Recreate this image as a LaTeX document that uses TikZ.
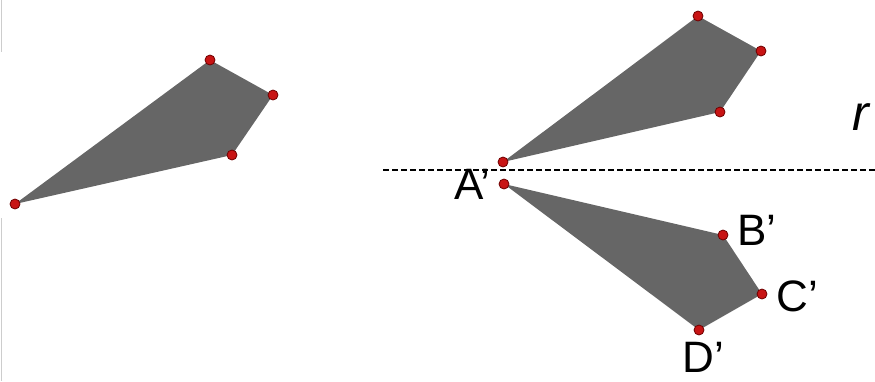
\documentclass[tikz,border=0pt]{standalone}
\usepackage{fontspec}
\setmainfont{Liberation Sans}
\usetikzlibrary{positioning}
\definecolor{kitegray}{RGB}{102,102,102}
\definecolor{vertexred}{RGB}{200,20,20}
\definecolor{vertexrim}{RGB}{110,0,0}
\definecolor{framegray}{RGB}{205,205,205}

\begin{document}
\begin{tikzpicture}[x=1pt, y=-1pt,
			kite/.style={fill=kitegray},
			vertex/.style={circle, fill=vertexred, draw=vertexrim,
				line width=0.8pt, inner sep=0pt, minimum size=10pt},
			ptlabel/.style={inner sep=0pt, font=\fontsize{44}{44}\selectfont},
			mirror/.style={draw, line width=1.3pt, dash pattern=on 6pt off 3pt},
			frame/.style={draw=framegray, line width=1pt}
		]
		\useasboundingbox (0,0) rectangle (875,381);
		\draw[frame] (1,0) -- (1,52);
		\draw[frame] (1,218) -- (1,381);

		% original kite
		\coordinate (la) at (15,204);
		\coordinate (lb) at (210,60);
		\coordinate (lc) at (273,95);
		\coordinate (ld) at (232,155);
		% kite above the line
		\coordinate (ta) at (503,162);
		\coordinate (tb) at (698,16);
		\coordinate (tc) at (761,51);
		\coordinate (td) at (720,112);
		% reflected kite
		\coordinate (ba) at (504,184);
		\coordinate (bb) at (723,235);
		\coordinate (bc) at (762,294);
		\coordinate (bd) at (699,330);

		\fill[kite] (la) -- (lb) -- (lc) -- (ld) -- cycle;
		\fill[kite] (ta) -- (tb) -- (tc) -- (td) -- cycle;
		\fill[kite] (ba) -- (bb) -- (bc) -- (bd) -- cycle;

		\coordinate (m1) at (383,170);
		\coordinate (m2) at (875,170);
		\draw[mirror] (m1) -- (m2);

		\node[vertex] (dla) at (la) {};
		\node[vertex] (dlb) at (lb) {};
		\node[vertex] (dlc) at (lc) {};
		\node[vertex] (dld) at (ld) {};
		\node[vertex] (dta) at (ta) {};
		\node[vertex] (dtb) at (tb) {};
		\node[vertex] (dtc) at (tc) {};
		\node[vertex] (dtd) at (td) {};
		\node[vertex] (dba) at (ba) {};
		\node[vertex] (dbb) at (bb) {};
		\node[vertex] (dbc) at (bc) {};
		\node[vertex] (dbd) at (bd) {};

		\node[ptlabel, left=8pt of dba] (labA) {A’};
		\node[ptlabel, right=9pt of dbb, yshift=5pt] (labB) {B’};
		\node[ptlabel, right=9pt of dbc, yshift=-2pt] (labC) {C’};
		\node[ptlabel, below=7pt of dbd, xshift=4pt] (labD) {D’};
		\node[inner sep=0pt, anchor=base west,
			font=\fontsize{50}{50}\selectfont\itshape] (labr) at (852,130) {r};
	\end{tikzpicture}
\end{document}
